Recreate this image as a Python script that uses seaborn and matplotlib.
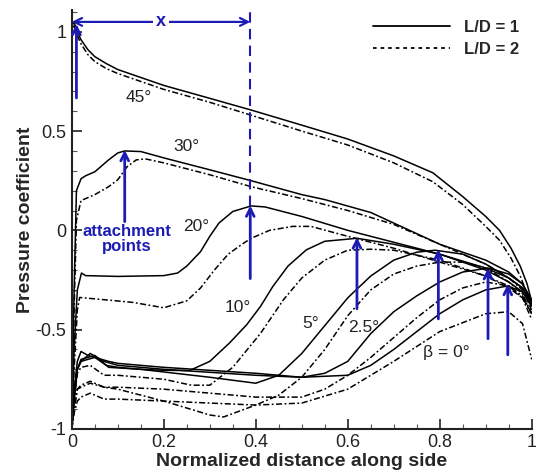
import matplotlib
matplotlib.use("Agg")
import matplotlib.pyplot as plt
from matplotlib.lines import Line2D
from matplotlib.ticker import MultipleLocator
import pandas as pd
import seaborn as sns

# Cp along the side. one solid (L/D=1) and one dashed (L/D=2) per beta
x45_1 = [0, 0.005, 0.01, 0.02, 0.035, 0.05, 0.075, 0.1, 0.15, 0.2, 0.3, 0.39, 0.5, 0.6, 0.7, 0.785, 0.85, 0.9, 0.93, 0.955, 0.975, 0.99, 1.0]
y45_1 = [1.03, 1.05, 1.01, 0.96, 0.91, 0.875, 0.84, 0.81, 0.77, 0.73, 0.665, 0.606, 0.53, 0.46, 0.375, 0.29, 0.17, 0.07, 0.0, -0.09, -0.18, -0.27, -0.36]
x45_2 = [0, 0.005, 0.01, 0.02, 0.035, 0.05, 0.075, 0.1, 0.15, 0.2, 0.3, 0.39, 0.5, 0.6, 0.7, 0.785, 0.85, 0.9, 0.93, 0.955, 0.975, 0.99, 1.0]
y45_2 = [1.02, 1.03, 0.99, 0.94, 0.885, 0.85, 0.815, 0.79, 0.75, 0.71, 0.645, 0.58, 0.5, 0.43, 0.34, 0.245, 0.13, 0.02, -0.05, -0.14, -0.23, -0.32, -0.41]

x30_1 = [0, 0.005, 0.01, 0.02, 0.03, 0.05, 0.08, 0.1, 0.115, 0.15, 0.2, 0.3, 0.39, 0.5, 0.55, 0.65, 0.8, 0.9, 0.95, 0.98, 1.0]
y30_1 = [-1.0, -0.3, 0.2, 0.26, 0.275, 0.295, 0.355, 0.39, 0.40, 0.397, 0.365, 0.305, 0.25, 0.18, 0.155, 0.09, -0.07, -0.15, -0.21, -0.27, -0.36]
x30_2 = [0, 0.005, 0.01, 0.02, 0.05, 0.08, 0.1, 0.12, 0.14, 0.16, 0.2, 0.3, 0.39, 0.5, 0.6, 0.7, 0.8, 0.9, 0.95, 0.98, 1.0]
y30_2 = [-1.0, -0.4, 0.05, 0.15, 0.18, 0.22, 0.255, 0.32, 0.355, 0.36, 0.34, 0.28, 0.22, 0.16, 0.1, 0.03, -0.07, -0.17, -0.24, -0.3, -0.4]

x20_1 = [0, 0.005, 0.012, 0.021, 0.03, 0.1, 0.2, 0.23, 0.25, 0.28, 0.3, 0.32, 0.35, 0.39, 0.42, 0.5, 0.6, 0.7, 0.8, 0.9, 0.95, 0.98, 1.0]
y20_1 = [-1.0, -0.6, -0.3, -0.215, -0.228, -0.232, -0.228, -0.215, -0.18, -0.107, -0.03, 0.037, 0.095, 0.123, 0.118, 0.07, 0.0, -0.06, -0.12, -0.19, -0.24, -0.29, -0.37]
x20_2 = [0, 0.005, 0.012, 0.017, 0.05, 0.133, 0.2, 0.25, 0.28, 0.31, 0.34, 0.37, 0.39, 0.43, 0.48, 0.52, 0.6, 0.7, 0.8, 0.9, 0.95, 0.98, 1.0]
y20_2 = [-1.0, -0.7, -0.4, -0.338, -0.345, -0.363, -0.39, -0.355, -0.29, -0.2, -0.12, -0.07, -0.04, 0.0, 0.02, 0.02, -0.03, -0.09, -0.16, -0.23, -0.28, -0.33, -0.42]

x10_1 = [0, 0.005, 0.012, 0.02, 0.035, 0.05, 0.075, 0.1, 0.15, 0.2, 0.256, 0.3, 0.343, 0.38, 0.41, 0.437, 0.47, 0.51, 0.55, 0.62, 0.7, 0.8, 0.9, 0.95, 0.98, 1.0]
y10_1 = [-1.0, -0.8, -0.66, -0.61, -0.63, -0.64, -0.68, -0.69, -0.7, -0.705, -0.706, -0.66, -0.567, -0.476, -0.384, -0.283, -0.18, -0.098, -0.055, -0.04, -0.07, -0.12, -0.2, -0.26, -0.31, -0.38]
x10_2 = [0, 0.005, 0.012, 0.02, 0.04, 0.07, 0.1, 0.2, 0.26, 0.3, 0.35, 0.41, 0.46, 0.5, 0.55, 0.6, 0.65, 0.7, 0.8, 0.9, 0.95, 0.98, 1.0]
y10_2 = [-1.0, -0.85, -0.72, -0.69, -0.68, -0.73, -0.73, -0.75, -0.78, -0.78, -0.69, -0.52, -0.35, -0.24, -0.15, -0.1, -0.095, -0.1, -0.15, -0.23, -0.29, -0.34, -0.42]

x5_1 = [0, 0.005, 0.012, 0.02, 0.05, 0.08, 0.15, 0.3, 0.4, 0.45, 0.5, 0.55, 0.6, 0.65, 0.7, 0.75, 0.79, 0.85, 0.9, 0.95, 0.98, 1.0]
y5_1 = [-1.0, -0.85, -0.7, -0.65, -0.63, -0.69, -0.7, -0.74, -0.77, -0.73, -0.62, -0.48, -0.34, -0.23, -0.15, -0.11, -0.1, -0.12, -0.17, -0.24, -0.29, -0.37]
x5_2 = [0, 0.005, 0.012, 0.02, 0.04, 0.07, 0.1, 0.2, 0.3, 0.33, 0.4, 0.45, 0.5, 0.55, 0.6, 0.65, 0.7, 0.75, 0.8, 0.85, 0.9, 0.95, 0.98, 1.0]
y5_2 = [-1.0, -0.9, -0.8, -0.78, -0.76, -0.79, -0.8, -0.86, -0.93, -0.94, -0.88, -0.83, -0.74, -0.6, -0.43, -0.3, -0.22, -0.18, -0.16, -0.16, -0.19, -0.26, -0.32, -0.42]

x2_1 = [0, 0.005, 0.012, 0.02, 0.04, 0.07, 0.1, 0.2, 0.4, 0.5, 0.55, 0.6, 0.65, 0.7, 0.75, 0.8, 0.85, 0.905, 0.95, 0.98, 1.0]
y2_1 = [-1.0, -0.85, -0.7, -0.66, -0.62, -0.66, -0.68, -0.7, -0.73, -0.74, -0.72, -0.66, -0.52, -0.41, -0.33, -0.26, -0.21, -0.19, -0.22, -0.27, -0.35]
x2_2 = [0, 0.005, 0.012, 0.02, 0.04, 0.07, 0.1, 0.2, 0.3, 0.4, 0.5, 0.55, 0.6, 0.65, 0.7, 0.75, 0.8, 0.85, 0.9, 0.95, 0.98, 1.0]
y2_2 = [-1.0, -0.9, -0.8, -0.79, -0.77, -0.79, -0.79, -0.8, -0.82, -0.84, -0.84, -0.8, -0.73, -0.64, -0.54, -0.44, -0.35, -0.29, -0.26, -0.28, -0.34, -0.45]

x0_1 = [0, 0.005, 0.012, 0.02, 0.05, 0.08, 0.1, 0.2, 0.4, 0.5, 0.6, 0.65, 0.7, 0.75, 0.8, 0.85, 0.9, 0.948, 0.98, 1.0]
y0_1 = [-1.0, -0.85, -0.7, -0.66, -0.64, -0.66, -0.67, -0.69, -0.72, -0.74, -0.73, -0.68, -0.6, -0.51, -0.42, -0.35, -0.3, -0.28, -0.31, -0.38]
x0_2 = [0, 0.005, 0.012, 0.02, 0.04, 0.07, 0.1, 0.2, 0.3, 0.4, 0.5, 0.6, 0.7, 0.8, 0.9, 0.95, 0.98, 1.0]
y0_2 = [-1.0, -0.92, -0.86, -0.84, -0.82, -0.85, -0.85, -0.86, -0.87, -0.88, -0.87, -0.8, -0.66, -0.51, -0.42, -0.41, -0.47, -0.65]

curves = {
    ("45", "L/D = 1"): (x45_1, y45_1), ("45", "L/D = 2"): (x45_2, y45_2),
    ("30", "L/D = 1"): (x30_1, y30_1), ("30", "L/D = 2"): (x30_2, y30_2),
    ("20", "L/D = 1"): (x20_1, y20_1), ("20", "L/D = 2"): (x20_2, y20_2),
    ("10", "L/D = 1"): (x10_1, y10_1), ("10", "L/D = 2"): (x10_2, y10_2),
    ("5", "L/D = 1"): (x5_1, y5_1), ("5", "L/D = 2"): (x5_2, y5_2),
    ("2.5", "L/D = 1"): (x2_1, y2_1), ("2.5", "L/D = 2"): (x2_2, y2_2),
    ("0", "L/D = 1"): (x0_1, y0_1), ("0", "L/D = 2"): (x0_2, y0_2),
}

# angle labels
label_text = ["45°", "30°", "20°", "10°", "5°", "2.5°", "β = 0°"]
label_x = [0.145, 0.25, 0.27, 0.36, 0.52, 0.635, 0.815]
label_y = [0.67, 0.42, 0.02, -0.39, -0.47, -0.49, -0.615]

# attachment point arrows (tail -> head)
arrow_x = [0.01, 0.115, 0.388, 0.62, 0.797, 0.905, 0.948]
arrow_y0 = [0.667, 0.044, -0.243, -0.395, -0.446, -0.546, -0.627]
arrow_y1 = [1.04, 0.405, 0.125, -0.035, -0.095, -0.19, -0.27]

BLUE = "#1c1cb4"

rows = []
for (beta, ld), (xs, ys) in curves.items():
    for xv, yv in zip(xs, ys):
        rows.append({"beta": beta, "LD": ld, "curve": beta + "_" + ld, "s": xv, "cp": yv})
df = pd.DataFrame(rows)

sns.set_style("ticks")
plt.rcParams["font.family"] = ["Liberation Sans", "DejaVu Sans"]

fig = plt.figure(figsize=(5.36, 4.76), dpi=100)
ax = fig.add_axes([0.134, 0.099, 0.858, 0.88])

sns.lineplot(data=df, x="s", y="cp", units="curve", style="LD", estimator=None, sort=False,
             dashes={"L/D = 1": "", "L/D = 2": (4, 1.6, 1.2, 1.6)},
             color="black", lw=1.1, legend=False, ax=ax)

ax.set_xlim(0, 1)
ax.set_ylim(-1, 1.11)
ax.xaxis.set_major_locator(MultipleLocator(0.2))
ax.xaxis.set_minor_locator(MultipleLocator(0.05))
ax.yaxis.set_major_locator(MultipleLocator(0.5))
ax.yaxis.set_minor_locator(MultipleLocator(0.1))
ax.tick_params(which="major", direction="in", length=7, width=1.2, labelsize=13, colors="#222222", pad=4)
ax.tick_params(which="minor", direction="in", length=3.5, width=0.8, colors="#555555")
ax.set_xticks([0, 0.2, 0.4, 0.6, 0.8, 1.0])
ax.set_xticklabels(["0", "0.2", "0.4", "0.6", "0.8", "1"])
ax.set_yticks([-1, -0.5, 0, 0.5, 1])
ax.set_yticklabels(["-1", "-0.5", "0", "0.5", "1"])
for sp in ["top", "right"]:
    ax.spines[sp].set_visible(False)
for sp in ["left", "bottom"]:
    ax.spines[sp].set_linewidth(1.5)
    ax.spines[sp].set_color("#222222")

ax.set_xlabel("Normalized distance along side", fontsize=14, fontweight="bold", labelpad=1)
ax.set_ylabel("Pressure coefficient", fontsize=14, fontweight="bold", labelpad=1)

for t, lx, ly in zip(label_text, label_x, label_y):
    ax.text(lx, ly, t, fontsize=12.5, ha="center", va="center", color="#222222")

for ax_x, y0, y1 in zip(arrow_x, arrow_y0, arrow_y1):
    ax.annotate("", xy=(ax_x, y1), xytext=(ax_x, y0),
                arrowprops=dict(arrowstyle="->", color=BLUE, lw=2, mutation_scale=14,
                                shrinkA=0, shrinkB=0))

# vertical dashed guide and x span arrow
ax.plot([0.388, 0.388], [0.125, 1.11], color=BLUE, lw=1.5, ls=(0, (5, 3)), clip_on=False)
ax.annotate("", xy=(0.0, 1.05), xytext=(0.388, 1.05),
            arrowprops=dict(arrowstyle="<->", color=BLUE, lw=1.6, mutation_scale=14,
                            shrinkA=0, shrinkB=0))
ax.text(0.194, 1.05, "x", fontsize=13, fontweight="bold", color=BLUE, ha="center", va="center",
        bbox=dict(facecolor="white", edgecolor="none", pad=2))
ax.text(0.12, -0.045, "attachment\npoints", fontsize=12, fontweight="bold", color=BLUE,
        ha="center", va="center", linespacing=1.0)

handles = [Line2D([], [], color="black", lw=1.3),
           Line2D([], [], color="black", lw=1.3, ls=(0, (2, 2.2)))]
ax.legend(handles, ["L/D = 1", "L/D = 2"], loc="upper right", bbox_to_anchor=(0.995, 1.0),
          frameon=False, handlelength=4.6, handletextpad=0.85, labelspacing=0.4,
          borderaxespad=0.2, prop={"weight": "bold", "size": 12})

fig.savefig("out.png", dpi=100)
